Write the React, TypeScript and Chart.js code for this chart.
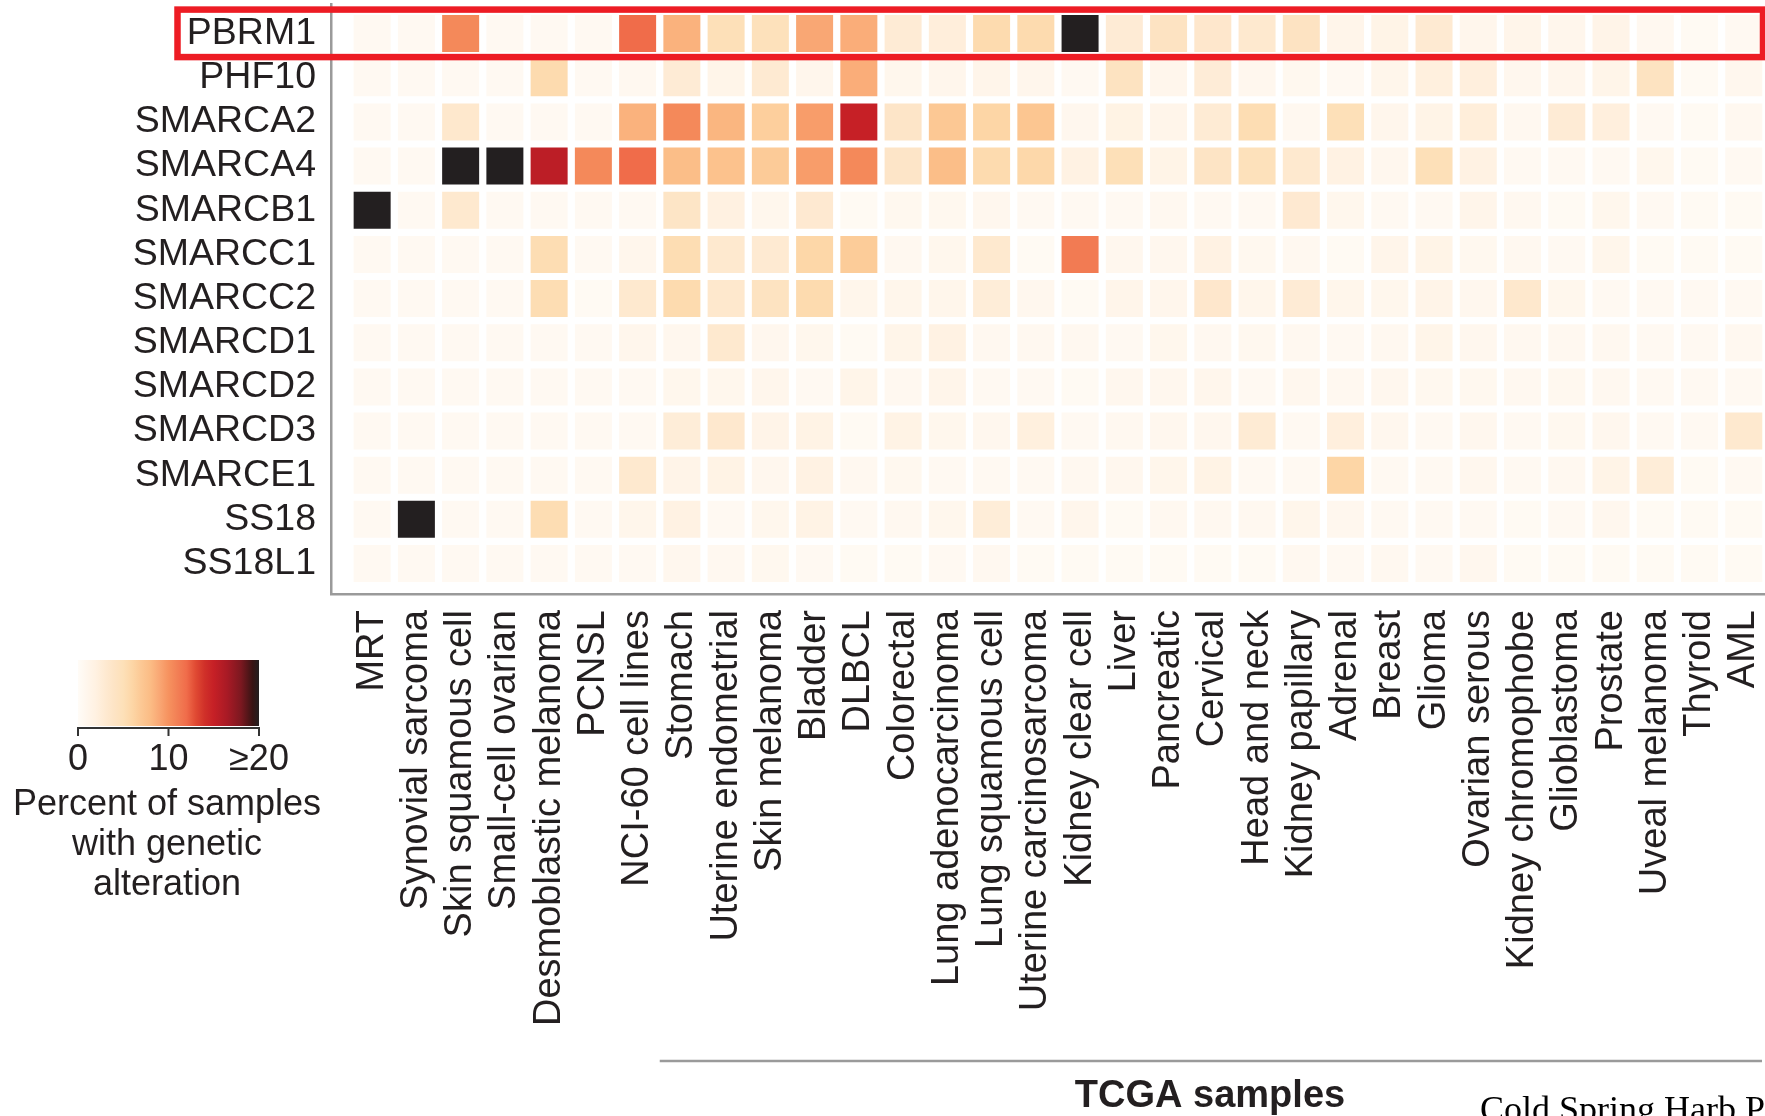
import { useEffect, useRef } from "react";
import { Chart, registerables } from "chart.js";

Chart.register(...registerables);

const W = 1765;
const H = 1116;

const genes = ["PBRM1", "PHF10", "SMARCA2", "SMARCA4", "SMARCB1", "SMARCC1", "SMARCC2", "SMARCD1", "SMARCD2", "SMARCD3", "SMARCE1", "SS18", "SS18L1"];

const cancerTypes = [
  "MRT", "Synovial sarcoma", "Skin squamous cell", "Small-cell ovarian", "Desmoblastic melanoma", "PCNSL",
  "NCI-60 cell lines", "Stomach", "Uterine endometrial", "Skin melanoma", "Bladder", "DLBCL", "Colorectal",
  "Lung adenocarcinoma", "Lung squamous cell", "Uterine carcinosarcoma", "Kidney clear cell", "Liver",
  "Pancreatic", "Cervical", "Head and neck", "Kidney papillary", "Adrenal", "Breast", "Glioma",
  "Ovarian serous", "Kidney chromophobe", "Glioblastoma", "Prostate", "Uveal melanoma", "Thyroid", "AML",
];

// percent of samples with genetic alteration, one array per gene (columns follow cancerTypes)
const PBRM1 = [0.5, 0.5, 10.5, 0.5, 0.5, 0.5, 12, 8.5, 5, 4.8, 9, 8.7, 2.8, 2.4, 5.5, 5.5, 20, 2.8, 4.2, 3.5, 3.2, 4.2, 1.2, 1.5, 3, 1, 1.2, 1, 1.4, 0.6, 0.4, 0.5];
const PHF10 = [0.5, 0.5, 0.5, 0.5, 5.5, 0.5, 0.6, 2.8, 1.3, 3, 1, 8.7, 0.9, 1, 1.2, 1, 0.5, 4.3, 1, 2.7, 0.8, 0.7, 0.5, 1.1, 2.2, 2.3, 0.8, 1, 1.3, 4.3, 0.4, 0.8];
const SMARCA2 = [0.5, 0.5, 3.4, 0.5, 0.5, 0.5, 8.5, 10.5, 8.3, 6.5, 9.5, 15, 3.8, 7, 6, 7.2, 0.8, 1.7, 1.2, 2.9, 5.3, 0.6, 5, 1.0, 1.5, 2.5, 0.6, 2.8, 2.3, 0.5, 0.4, 0.6];
const SMARCA4 = [0.5, 0.5, 20, 20, 15.5, 10.5, 12, 7.8, 7.5, 6.8, 9.5, 10.5, 3.8, 7.8, 5.5, 5.8, 1.8, 5, 1.5, 4, 4.8, 3.2, 1.8, 0.8, 5, 1.8, 0.5, 0.5, 0.5, 0.9, 0.4, 0.5];
const SMARCB1 = [20, 0.5, 3.2, 0.5, 0.5, 0.5, 0.5, 3.9, 2, 0.9, 3.1, 0.4, 0.7, 0.7, 0.8, 0.5, 0.5, 0.5, 0.6, 0.5, 0.5, 3.1, 0.9, 0.5, 0.5, 1.2, 0.6, 0.4, 0.9, 0.5, 0.4, 0.4];
const SMARCC1 = [0.5, 0.5, 0.5, 0.5, 5.3, 0.5, 1, 5.3, 3.2, 3, 5.9, 6.7, 0.6, 0.9, 3.2, 0.4, 11.2, 0.8, 0.8, 1.8, 0.7, 0.6, 0.4, 1.2, 1.5, 0.7, 0.6, 0.5, 1.1, 0.4, 0.4, 0.4];
const SMARCC2 = [0.5, 0.5, 0.5, 0.5, 5.3, 0.4, 3.2, 5.5, 3.4, 4.3, 5.5, 1.1, 1.1, 1.1, 2.6, 0.8, 0.4, 1.2, 1, 3.5, 1.1, 2.8, 1.1, 0.9, 1.4, 0.8, 3.4, 0.9, 0.5, 0.5, 0.5, 0.5];
const SMARCD1 = [0.5, 0.5, 0.5, 0.5, 0.5, 0.5, 1, 0.8, 3.2, 0.8, 0.9, 0.4, 1.3, 1.8, 0.6, 0.6, 0.6, 0.5, 0.9, 0.6, 0.7, 0.6, 0.5, 0.6, 1.3, 0.8, 0.6, 0.6, 0.6, 0.5, 0.5, 0.6];
const SMARCD2 = [0.5, 0.5, 0.5, 0.5, 0.5, 0.5, 0.5, 0.9, 0.9, 1, 0.5, 1.3, 0.6, 1.2, 0.5, 0.5, 0.4, 0.8, 0.8, 1, 0.5, 0.8, 0.6, 0.8, 0.7, 0.7, 0.6, 0.7, 0.6, 0.5, 0.5, 0.5];
const SMARCD3 = [0.5, 0.5, 0.5, 0.5, 0.5, 0.5, 0.5, 2.6, 3.3, 1.4, 1.6, 0.4, 1.6, 0.9, 0.8, 2.2, 0.5, 0.6, 0.8, 0.8, 2.9, 0.5, 2.3, 0.8, 0.5, 0.8, 0.5, 0.7, 0.8, 0.5, 0.5, 3.2];
const SMARCE1 = [0.5, 0.5, 0.5, 0.5, 0.5, 0.5, 3.2, 1.4, 1.6, 0.8, 1.8, 0.6, 0.7, 0.5, 0.5, 0.5, 0.6, 0.8, 1.1, 1.6, 0.5, 0.5, 6, 0.5, 0.5, 0.8, 0.5, 0.6, 1.5, 2.6, 0.4, 0.5];
const SS18 = [0.5, 20, 0.5, 0.5, 5.3, 0.5, 1.1, 1.8, 0.5, 0.9, 1.6, 0.5, 0.6, 0.9, 2.6, 0.5, 1, 0.4, 0.6, 0.6, 0.6, 1.1, 0.8, 0.5, 0.5, 0.5, 0.4, 0.5, 0.8, 0.4, 0.4, 0.4];
const SS18L1 = [0.5, 0.5, 0.5, 0.5, 0.5, 0.5, 0.5, 0.8, 0.6, 0.7, 0.5, 0.4, 0.4, 0.5, 0.6, 0.4, 0.4, 0.4, 0.4, 0.4, 0.4, 0.6, 0.5, 0.6, 0.5, 0.8, 0.4, 0.4, 0.4, 0.4, 0.4, 0.4];

const geneRows = [PBRM1, PHF10, SMARCA2, SMARCA4, SMARCB1, SMARCC1, SMARCC2, SMARCD1, SMARCD2, SMARCD3, SMARCE1, SS18, SS18L1];

const legendTickValues = [0, 10, 20];
const legendTickLabels = ["0", "10", "≥20"];
const legendTitle = ["Percent of samples", "with genetic", "alteration"];
const highlightedGene = "PBRM1";
const tcgaFirstColumn = "Stomach";
const groupLabel = "TCGA samples";
const footerText = "Cold Spring Harb Perspect Med";

const VMAX = 20;
const colorStops: [number, string][] = [
  [0, "#fffcf7"], [1, "#fff6ec"], [2, "#fff1e1"], [3, "#feead2"], [4, "#fde4c5"],
  [5, "#fde0b8"], [6, "#fdd6a6"], [7, "#fcc894"], [8, "#fbbc85"], [9, "#f9a774"],
  [10, "#f6925f"], [11, "#f27f55"], [12, "#f06c4a"], [13, "#e04a33"], [14, "#d03029"],
  [15, "#c62026"], [16.5, "#a81a25"], [18, "#7c1820"], [19.3, "#381414"], [20, "#231f20"],
];

function hexToRgb(h: string) {
  return [parseInt(h.slice(1, 3), 16), parseInt(h.slice(3, 5), 16), parseInt(h.slice(5, 7), 16)];
}
function colorFor(v: number) {
  const c = Math.max(0, Math.min(VMAX, v));
  for (let i = 1; i < colorStops.length; i++) {
    const [v1, c1] = colorStops[i];
    const [v0, c0] = colorStops[i - 1];
    if (c <= v1) {
      const t = (c - v0) / (v1 - v0);
      const a = hexToRgb(c0), b = hexToRgb(c1);
      const m = a.map((x, k) => Math.round(x + (b[k] - x) * t));
      return `rgb(${m[0]},${m[1]},${m[2]})`;
    }
  }
  return colorStops[colorStops.length - 1][1];
}

const FONT = '"Liberation Sans", Arial, Helvetica, sans-serif';
const TEXT = "#231f20";
const AXIS = "#9a9a9a";
const CELL = 37;

const extrasPlugin = {
  id: "extras",
  afterDraw(chart: any) {
    const { ctx } = chart;
    const xs = chart.scales.x;
    const ys = chart.scales.y;
    ctx.save();

    // highlight box around the selected gene row
    const cy = ys.getPixelForValue(genes.indexOf(highlightedGene));
    ctx.strokeStyle = "#ed1c24";
    ctx.lineWidth = 6.5;
    ctx.strokeRect(177.5, cy - 24, 1763 - 177.5, 47.5);

    // colour bar legend
    const lx0 = 78, lx1 = 259, ly0 = 660, ly1 = 726;
    const grad = ctx.createLinearGradient(lx0, 0, lx1, 0);
    colorStops.forEach(([v, c]) => grad.addColorStop(v / VMAX, c));
    ctx.fillStyle = grad;
    ctx.fillRect(lx0, ly0, lx1 - lx0, ly1 - ly0);
    ctx.strokeStyle = "#333333";
    ctx.lineWidth = 2;
    ctx.beginPath();
    ctx.moveTo(lx0 - 1, 728);
    ctx.lineTo(lx1 + 1, 728);
    legendTickValues.forEach((v) => {
      const x = lx0 + ((lx1 - lx0) * v) / VMAX;
      ctx.moveTo(x, 727);
      ctx.lineTo(x, 736);
    });
    ctx.stroke();
    ctx.fillStyle = TEXT;
    ctx.font = `36px ${FONT}`;
    ctx.textAlign = "center";
    ctx.textBaseline = "alphabetic";
    legendTickLabels.forEach((t, i) => {
      ctx.fillText(t, lx0 + ((lx1 - lx0) * legendTickValues[i]) / VMAX, 770);
    });
    legendTitle.forEach((t, i) => ctx.fillText(t, 167, 815 + i * 40));

    // TCGA group bracket
    const gx0 = xs.getPixelForValue(cancerTypes.indexOf(tcgaFirstColumn) - 0.5);
    ctx.strokeStyle = AXIS;
    ctx.lineWidth = 2.5;
    ctx.beginPath();
    ctx.moveTo(gx0, 1061);
    ctx.lineTo(1762, 1061);
    ctx.stroke();
    ctx.fillStyle = TEXT;
    ctx.font = `bold 38px ${FONT}`;
    ctx.textAlign = "center";
    ctx.fillText(groupLabel, 1210, 1107);

    // footer
    ctx.fillStyle = "#000000";
    ctx.font = `36px "Liberation Serif", "Times New Roman", serif`;
    ctx.textAlign = "left";
    ctx.fillText(footerText, 1480, 1121);

    ctx.restore();
  },
};

export default function App() {
  const ref = useRef<HTMLCanvasElement | null>(null);

  useEffect(() => {
    document.body.style.margin = "0";
    document.body.style.overflow = "hidden";
    const canvas = ref.current;
    if (!canvas) return;

    const points: { x: number; y: number }[] = [];
    const colors: string[] = [];
    geneRows.forEach((row, r) => {
      row.forEach((v, c) => {
        points.push({ x: c, y: r });
        colors.push(colorFor(v));
      });
    });

    const chart = new Chart(canvas, {
      type: "scatter",
      data: {
        datasets: [
          {
            data: points,
            pointStyle: "rect",
            pointRadius: CELL / Math.SQRT2,
            pointHoverRadius: CELL / Math.SQRT2,
            pointBackgroundColor: colors,
            pointHoverBackgroundColor: colors,
            pointBorderWidth: 0,
            pointHoverBorderWidth: 0,
            clip: false,
          } as any,
        ],
      },
      options: {
        responsive: false,
        animation: false,
        events: [],
        layout: { autoPadding: false, padding: { top: 4, left: 0, right: 0, bottom: 0 } },
        plugins: { legend: { display: false }, tooltip: { enabled: false } },
        scales: {
          x: {
            type: "linear",
            position: "bottom",
            min: -0.93,
            max: 31.48,
            grid: { display: false, drawTicks: false },
            border: { display: true, color: AXIS, width: 2.5 },
            ticks: {
              autoSkip: false,
              minRotation: 90,
              maxRotation: 90,
              padding: 16,
              color: TEXT,
              font: { family: FONT, size: 38 },
              callback: (v: any) => cancerTypes[v] ?? "",
            },
            afterBuildTicks: (s: any) => {
              s.ticks = cancerTypes.map((_, i) => ({ value: i }));
            },
            afterFit: (s: any) => {
              s.height = H - 594;
              s.paddingLeft = 0;
              s.paddingRight = 0;
            },
          },
          y: {
            type: "linear",
            position: "left",
            reverse: true,
            min: -0.67,
            max: 12.69,
            grid: { display: false, drawTicks: false },
            border: { display: true, color: AXIS, width: 2.5 },
            ticks: {
              autoSkip: false,
              padding: 15,
              color: TEXT,
              font: { family: FONT, size: 37.5 },
              callback: (v: any) => genes[v] ?? "",
            },
            afterBuildTicks: (s: any) => {
              s.ticks = genes.map((_, i) => ({ value: i }));
            },
            afterFit: (s: any) => {
              s.width = 331;
              s.paddingTop = 0;
              s.paddingBottom = 0;
            },
          },
        },
      },
      plugins: [extrasPlugin],
    });

    return () => chart.destroy();
  }, []);

  return (
    <div style={{ width: W, height: H, background: "#ffffff" }}>
      <canvas ref={ref} width={W} height={H} style={{ display: "block" }} />
    </div>
  );
}
